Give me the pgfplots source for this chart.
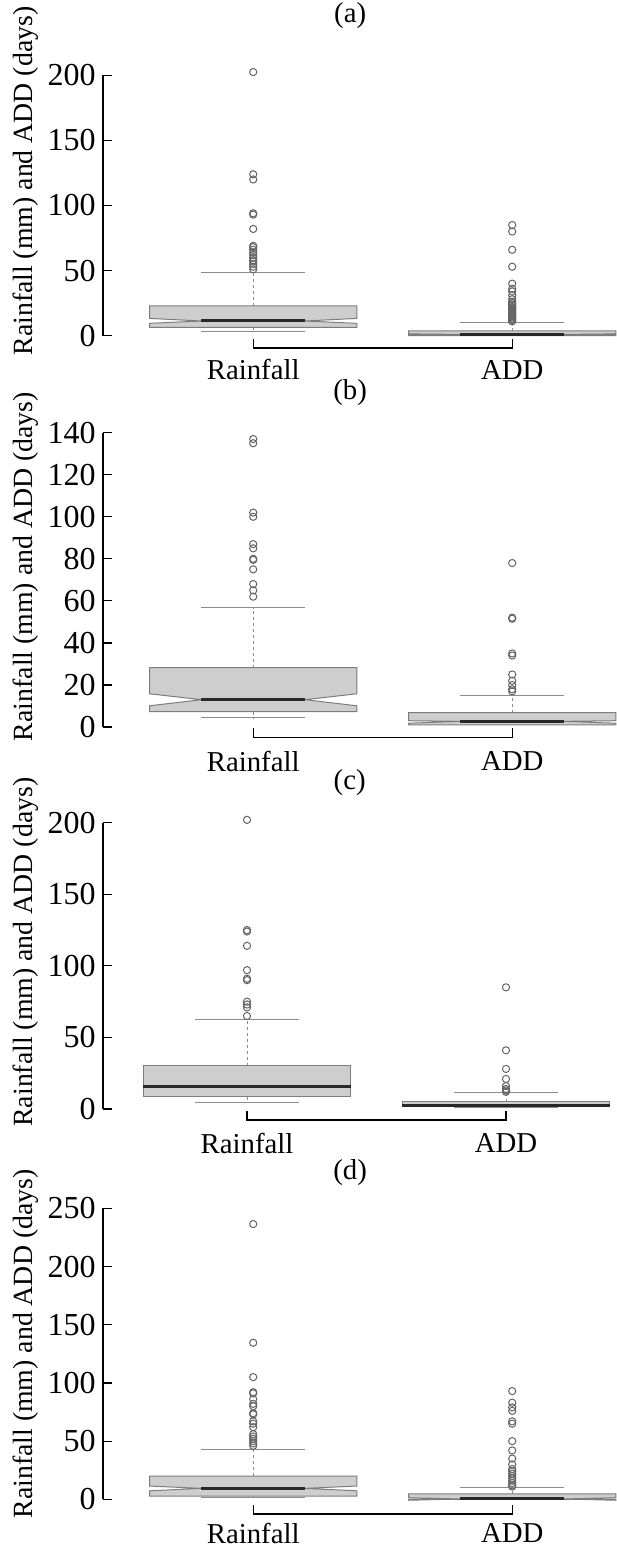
\documentclass[border=0pt]{standalone}
\usepackage{fontspec}
\setmainfont{Liberation Serif}
\usepackage{pgfplots}
\pgfplotsset{compat=1.18}

\definecolor{boxfill}{RGB}{206,206,206}
\definecolor{boxline}{RGB}{125,125,125}
\definecolor{medline}{RGB}{40,40,40}
\definecolor{whisk}{RGB}{140,140,140}
\definecolor{outl}{RGB}{100,100,100}

\newcommand{\fnt}{\fontsize{13.9}{16}\selectfont}
\newcommand{\xfnt}{\fontsize{14.4}{17}\selectfont}
\newcommand{\tfnt}{\fontsize{16}{18}\selectfont}

\pgfplotsset{
  panel/.style={
    scale only axis, anchor=south west, clip=false,
    xmin=0.42, xmax=2.4, ymin=0,
    axis y line*=left, axis x line*=bottom,
    x axis line style={draw=none},
    y axis line style={black, line width=0.6pt},
    xtick={1,2}, xticklabels={Rainfall,ADD},
    xtick style={draw=none},
    xticklabel style={font=\xfnt, anchor=center, yshift=-17pt},
    tick align=inside, major tick length=4.5pt,
    ytick style={black, line width=0.6pt},
    yticklabel style={font=\tfnt, inner sep=0pt, xshift=-3.5pt},
    /pgf/number format/assume math mode=true,
    label style={font=\fnt},
    title style={font=\xfnt, anchor=center},
    ylabel={Rainfall (mm) and ADD (days)},
  },
  whiskst/.style={whisk, line width=0.5pt, dash pattern=on 1.5pt off 1.5pt},
  staple/.style={whisk, line width=0.5pt},
  boxst/.style={draw=boxline, fill=boxfill, line width=0.5pt},
  medst/.style={medline, line width=1.5pt},
  outst/.style={only marks, mark=o, mark size=1.8pt, mark options={outl, line width=0.5pt}},
  brack/.style={black, line width=0.6pt},
}

% notched box: center, lo, Q1, notch low, median, notch high, Q3, hi
\newcommand{\nbox}[8]{%
  \pgfmathsetmacro\bxl{#1-0.4}\pgfmathsetmacro\bxr{#1+0.4}%
  \pgfmathsetmacro\bnl{#1-0.2}\pgfmathsetmacro\bnr{#1+0.2}%
  \addplot[whiskst] coordinates {(#1,#7) (#1,#8)};
  \addplot[whiskst] coordinates {(#1,#3) (#1,#2)};
  \addplot[staple] coordinates {(\bnl,#8) (\bnr,#8)};
  \addplot[staple] coordinates {(\bnl,#2) (\bnr,#2)};
  \addplot[boxst] coordinates {(\bxl,#3) (\bxr,#3) (\bxr,#4) (\bnr,#5) (\bxr,#6) (\bxr,#7) (\bxl,#7) (\bxl,#6) (\bnl,#5) (\bxl,#4)} -- cycle;
  \addplot[medst] coordinates {(\bnl,#5) (\bnr,#5)};
}
% plain box: center, lo, Q1, median, Q3, hi
\newcommand{\pbox}[6]{%
  \pgfmathsetmacro\bxl{#1-0.4}\pgfmathsetmacro\bxr{#1+0.4}%
  \pgfmathsetmacro\bnl{#1-0.2}\pgfmathsetmacro\bnr{#1+0.2}%
  \addplot[whiskst] coordinates {(#1,#5) (#1,#6)};
  \addplot[whiskst] coordinates {(#1,#3) (#1,#2)};
  \addplot[staple] coordinates {(\bnl,#6) (\bnr,#6)};
  \addplot[staple] coordinates {(\bnl,#2) (\bnr,#2)};
  \addplot[boxst] coordinates {(\bxl,#3) (\bxr,#3) (\bxr,#5) (\bxl,#5)} -- cycle;
  \addplot[medst] coordinates {(\bxl,#4) (\bxr,#4)};
}

\begin{document}
\begin{tikzpicture}
\path[use as bounding box] (0,0) rectangle (308pt,-774pt);

% (a)
\begin{axis}[panel, at={(51.5pt,-167.85pt)}, width=256.4pt, height=130.2pt,
  ymax=200, ytick={0,50,100,150,200}, title={(a)},
  title style={at={(axis description cs:0.482,1.182)}},
  ylabel style={at={(axis description cs:-0.151,0.594)}, anchor=center}]
\addplot[brack] coordinates {(1,-2.5) (1,-9.4) (2,-9.4) (2,-2.5)};
\nbox{1}{3.6}{6.4}{9.5}{11.3}{13.3}{23.0}{48.6}
\nbox{2}{0}{0}{0.6}{1.0}{1.4}{3.8}{10.3}
\addplot[outst] coordinates {(1,202.5) (1,124) (1,120) (1,94) (1,93) (1,82) (1,69) (1,68) (1,66) (1,64) (1,62) (1,60) (1,58) (1,57) (1,55) (1,53) (1,51)};
\addplot[outst] coordinates {(2,85) (2,80) (2,66) (2,53) (2,40) (2,36) (2,34) (2,31) (2,28) (2,26) (2,25) (2,24) (2,23) (2,22) (2,21) (2,20) (2,19) (2,18) (2,17) (2,16) (2,15) (2,14) (2,13) (2,12) (2,11)};
\end{axis}

% (b)
\begin{axis}[panel, at={(51.5pt,-363.5pt)}, width=256.4pt, height=147.15pt,
  ymax=140, ytick={0,20,...,140}, title={(b)},
  title style={at={(axis description cs:0.482,1.094)}},
  ylabel style={at={(axis description cs:-0.151,0.545)}, anchor=center}]
\addplot[brack] coordinates {(1,-0.45) (1,-5.1) (2,-5.1) (2,-0.45)};
\nbox{1}{4.4}{7.3}{10.1}{13.0}{15.8}{28.2}{56.8}
\nbox{2}{1.0}{1.0}{1.8}{2.7}{3.0}{6.8}{15.2}
\addplot[outst] coordinates {(1,137) (1,135) (1,102) (1,100) (1,87) (1,85) (1,80) (1,79.5) (1,75) (1,68) (1,65) (1,62)};
\addplot[outst] coordinates {(2,78) (2,52) (2,51.5) (2,35) (2,34) (2,25) (2,22) (2,20) (2,18) (2,17)};
\end{axis}

% (c)
\begin{axis}[panel, at={(51.5pt,-554.5pt)}, width=253.3pt, height=143.15pt,
  xmin=0.444, ymax=200, ytick={0,50,100,150,200}, title={(c)},
  title style={at={(axis description cs:0.487,1.097)}},
  ylabel style={at={(axis description cs:-0.153,0.548)}, anchor=center}]
\addplot[brack] coordinates {(1,-1.2) (1,-7.7) (2,-7.7) (2,-1.2)};
\pbox{1}{4.5}{8.6}{15.6}{30.2}{62.2}
\pbox{2}{1.0}{1.6}{2.6}{5.1}{11.4}
\addplot[outst] coordinates {(1,202) (1,125) (1,124) (1,114) (1,97) (1,91) (1,90) (1,75) (1,73) (1,71) (1,65)};
\addplot[outst] coordinates {(2,85) (2,41) (2,28) (2,21) (2,16) (2,14) (2,13) (2,12)};
\end{axis}

% (d)
\begin{axis}[panel, at={(51.5pt,-749.65pt)}, width=256.4pt, height=145.5pt,
  ymax=250, ytick={0,50,100,150,200,250}, title={(d)},
  title style={at={(axis description cs:0.482,1.080)}},
  ylabel style={at={(axis description cs:-0.151,0.534)}, anchor=center}]
\addplot[brack] coordinates {(1,-4.9) (1,-12.6) (2,-12.6) (2,-4.9)};
\nbox{1}{1.4}{2.8}{7.3}{9.4}{11.4}{20.0}{43.0}
\nbox{2}{0}{0}{-0.8}{0.3}{1.4}{4.6}{10.3}
\addplot[outst] coordinates {(1,236.5) (1,134.5) (1,105) (1,92) (1,91) (1,86) (1,82) (1,80) (1,74) (1,73) (1,67) (1,65) (1,62) (1,56) (1,54) (1,52) (1,50) (1,48) (1,46)};
\addplot[outst] coordinates {(2,93) (2,83) (2,79) (2,76) (2,67) (2,65) (2,50) (2,42) (2,35) (2,30) (2,26) (2,24) (2,22) (2,20) (2,18) (2,16) (2,14) (2,12) (2,11)};
\end{axis}
\end{tikzpicture}
\end{document}
